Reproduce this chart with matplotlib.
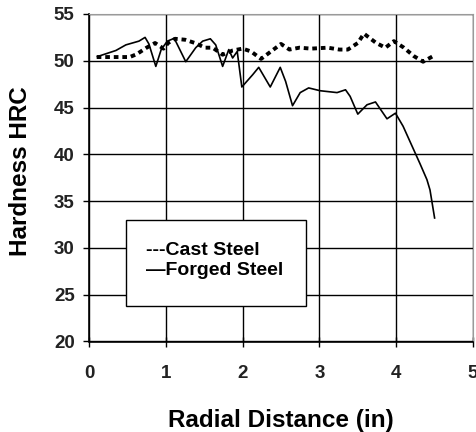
import matplotlib
matplotlib.use("Agg")
import matplotlib.pyplot as plt
from matplotlib.patches import Rectangle

plt.rcParams['font.family'] = ['Liberation Sans', 'DejaVu Sans']
plt.rcParams['font.weight'] = 'bold'

# Data
forged_x = [0.11, 0.35, 0.48, 0.65, 0.73, 0.78, 0.87, 0.94, 1.02, 1.11, 1.26, 1.39,
            1.48, 1.58, 1.65, 1.74, 1.82, 1.87, 1.93, 1.99, 2.13, 2.21, 2.36, 2.49,
            2.56, 2.65, 2.75, 2.86, 3.01, 3.23, 3.34, 3.40, 3.50, 3.62, 3.73, 3.88,
            3.99, 4.09, 4.31, 4.40, 4.44, 4.50]
forged_y = [50.45, 51.1, 51.7, 52.1, 52.5, 51.8, 49.4, 51.2, 52.1, 52.4, 49.9, 51.4,
            52.1, 52.35, 51.7, 49.4, 51.2, 50.3, 51.0, 47.2, 48.5, 49.3, 47.2, 49.3,
            47.8, 45.2, 46.6, 47.1, 46.8, 46.6, 46.9, 46.2, 44.3, 45.3, 45.6, 43.8,
            44.4, 43.0, 39.0, 37.3, 36.2, 33.2]

cast_x = [0.10, 0.20, 0.30, 0.40, 0.53, 0.62, 0.75, 0.86, 0.97, 1.03, 1.12, 1.25,
          1.38, 1.51, 1.61, 1.74, 1.87, 2.00, 2.11, 2.24, 2.37, 2.50, 2.61, 2.74,
          2.89, 3.11, 3.26, 3.37, 3.50, 3.58, 3.74, 3.86, 3.97, 4.10, 4.23, 4.35, 4.48]
cast_y = [50.4, 50.4, 50.4, 50.4, 50.4, 50.7, 51.4, 51.9, 51.3, 51.9, 52.35, 52.25,
          51.9, 51.4, 51.4, 50.65, 51.1, 51.3, 51.0, 50.2, 51.0, 51.8, 51.2, 51.4,
          51.3, 51.4, 51.2, 51.2, 51.9, 52.9, 51.9, 51.4, 52.1, 51.4, 50.5, 49.9, 50.5]

x_ticks = [0, 1, 2, 3, 4, 5]
y_ticks = [20, 25, 30, 35, 40, 45, 50, 55]
legend_text = "---Cast Steel\n\u2014Forged Steel"

fig = plt.figure(figsize=(4.77, 4.32), dpi=100)
ax = fig.add_axes([89/477, (432-341.5)/432, 384/477, 327.5/432])

ax.set_xlim(0, 5)
ax.set_ylim(20, 55)
ax.set_xticks(x_ticks)
ax.set_yticks(y_ticks)
ax.grid(True, color='black', linewidth=1.0, zorder=0)
ax.set_axisbelow(True)

ax.plot(forged_x, forged_y, color='black', linewidth=1.2, zorder=3)
ax.plot(cast_x, cast_y, color='black', linewidth=2.8,
        linestyle=(0, (1.2, 1.0)), dash_capstyle='butt', zorder=4)

for s in ['top', 'right']:
    ax.spines[s].set_color('#9a9a9a')
for s in ['left', 'bottom']:
    ax.spines[s].set_color('black')
    ax.spines[s].set_linewidth(1.2)

ax.tick_params(axis='x', direction='inout', length=6.5, width=1.0, pad=14,
               labelsize=13.5)
ax.tick_params(axis='y', direction='out', length=4.3, width=1.0, pad=6,
               labelsize=13.5)
for lab in ax.get_xticklabels() + ax.get_yticklabels():
    lab.set_fontweight('bold')
    lab.set_color('#222222')

ax.set_xlabel("Radial Distance (in)", fontsize=17.5, fontweight='bold')
ax.set_ylabel("Hardness HRC", fontsize=17.5, fontweight='bold')
ax.xaxis.set_label_coords(0.5, -0.205)
ax.yaxis.set_label_coords(-0.148, 0.52)

# Legend (text box as in the reference)
rect = Rectangle((0.48, 23.75), 2.35, 9.2, facecolor='white', edgecolor='black',
                 linewidth=1.0, zorder=5)
ax.add_patch(rect)
ax.text(0.745, 28.7, legend_text, ha='left', va='center', fontsize=14,
        fontweight='bold', linespacing=1.22, zorder=6)

fig.savefig("out.png", dpi=100)
